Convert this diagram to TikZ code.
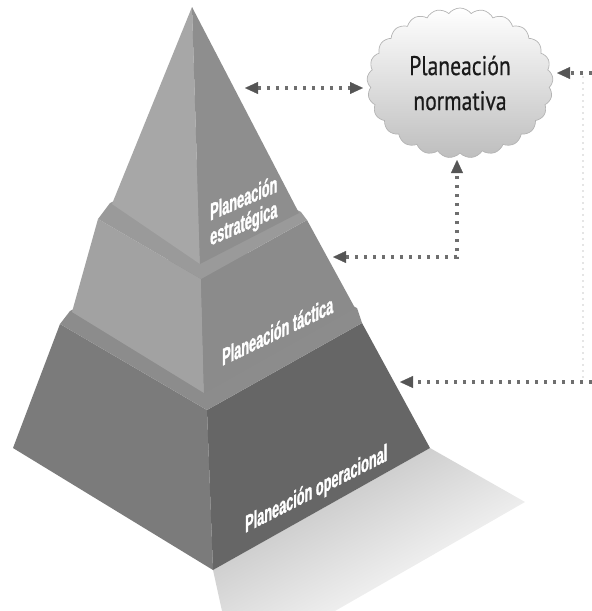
\documentclass[tikz,border=0pt]{standalone}
\usepackage{fontspec}
\setmainfont{Liberation Sans}
\newfontfamily\facefont[FakeStretch=0.53,FakeBold=1.2]{Liberation Sans}
\newfontfamily\cloudfont[FakeStretch=0.8,FakeBold=0.5]{PT Sans}
\usetikzlibrary{shapes.symbols,arrows.meta}

% face and connector colours
\definecolor{topLeft}{HTML}{A7A7A7}
\definecolor{topRight}{HTML}{8E8E8E}
\definecolor{midLeft}{HTML}{A2A2A2}
\definecolor{midRight}{HTML}{8B8B8B}
\definecolor{midLedge}{HTML}{9A9A9A}
\definecolor{botLeft}{HTML}{7B7B7B}
\definecolor{botRight}{HTML}{666666}
\definecolor{botLedge}{HTML}{8C8C8C}
\definecolor{dotgray}{HTML}{6E6E6E}
\definecolor{tipgray}{HTML}{555555}
\definecolor{cloudedge}{HTML}{B4B4B4}
\definecolor{cloudlow}{HTML}{BEBEBE}
\definecolor{inkdark}{HTML}{1A1A1A}

\begin{document}
\begin{tikzpicture}[x=1pt,y=-1pt,
  myhead/.tip={Triangle[length=13pt,width=12pt,color=tipgray,line width=0.2pt]},
  flow/.style={draw=dotgray,line width=3.1pt,dash pattern=on 3.4pt off 5.6pt},
  rail/.style={draw=black!10,line width=1.4pt,dash pattern=on 2pt off 4pt},
  facetxt/.style={text=white,font=\facefont\bfseries\fontsize{24}{25}\selectfont,
    inner sep=0pt,anchor=base west},
  cloudbox/.style={cloud,cloud puffs=25,cloud puff arc=105,cloud ignores aspect,
    minimum width=186pt,minimum height=150pt,draw=cloudedge,line width=0.7pt,
    top color=white,bottom color=cloudlow,align=center,text=inkdark,
    font=\cloudfont\fontsize{27}{35}\selectfont}]
\useasboundingbox (0,0) rectangle (592,611);

% pyramid vertices
\coordinate (A) at (192,7);
\coordinate (L1) at (112,204); \coordinate (F1) at (200,264); \coordinate (R1) at (299,213);
\coordinate (L2t) at (98,219); \coordinate (F2t) at (201,279); \coordinate (R2t) at (307,220);
\coordinate (B2) at (204,160);
\coordinate (L2b) at (72,312); \coordinate (F2b) at (204,393); \coordinate (R2b) at (355,308);
\coordinate (L3t) at (60,324); \coordinate (F3t) at (207,410); \coordinate (R3t) at (362,323);
\coordinate (B3) at (215,237);
\coordinate (L3b) at (13,448); \coordinate (F3b) at (213,570); \coordinate (R3b) at (430,448);

% floor shadow
\shade[top color=black!27,bottom color=white,shading angle=29]
  (F3b) -- (R3b) -- (525,502) -- (335,611) -- (222,611) -- cycle;

% bottom tier
\fill[botLeft] (L3t) -- (F3t) -- (F3b) -- (L3b) -- cycle;
\fill[botRight] (F3t) -- (R3t) -- (R3b) -- (F3b) -- cycle;
\fill[botLedge] (L3t) -- (F3t) -- (R3t) -- (357,308) -- (B3) -- (70,311) -- cycle;

% middle tier
\fill[midLeft] (L2t) -- (F2t) -- (F2b) -- (L2b) -- cycle;
\fill[midRight] (F2t) -- (R2t) -- (R2b) -- (F2b) -- cycle;
\fill[midLedge] (L2t) -- (F2t) -- (R2t) -- (301,212) -- (B2) -- (110,203) -- cycle;

% top tier
\fill[topLeft] (A) -- (L1) -- (F1) -- cycle;
\fill[topRight] (A) -- (F1) -- (R1) -- cycle;

% labels on the faces
\node[facetxt,anchor=west,align=left,yslant=0.43] (strat) at (210,227) {Planeación\\estratégica};
\node[facetxt,yslant=0.48] (tact) at (222,366) {Planeación táctica};
\node[facetxt,yslant=0.51] (oper) at (245,533) {Planeación operacional};

% cloud
\node[cloudbox] (norm) at (460,83) {Planeación\\normativa};

% connector end points
\coordinate (tipR) at (245,88);   \coordinate (cloudW) at (363,88);
\coordinate (edgeTop) at (592,73); \coordinate (cloudE) at (557,73);
\coordinate (cloudS) at (457,160); \coordinate (midEdge) at (333,257);
\coordinate (edgeBot) at (592,382); \coordinate (botEdge) at (400,382);
\coordinate (railTop) at (583,76); \coordinate (railBot) at (583,378);

% connectors
\draw[rail] (railTop) -- (railBot);
\draw[flow,myhead-myhead] (tipR) -- (cloudW);
\draw[flow,-myhead] (edgeTop) -- (cloudE);
\draw[flow,myhead-myhead] (midEdge) -| (cloudS);
\draw[flow,-myhead] (edgeBot) -- (botEdge);
\end{tikzpicture}
\end{document}
